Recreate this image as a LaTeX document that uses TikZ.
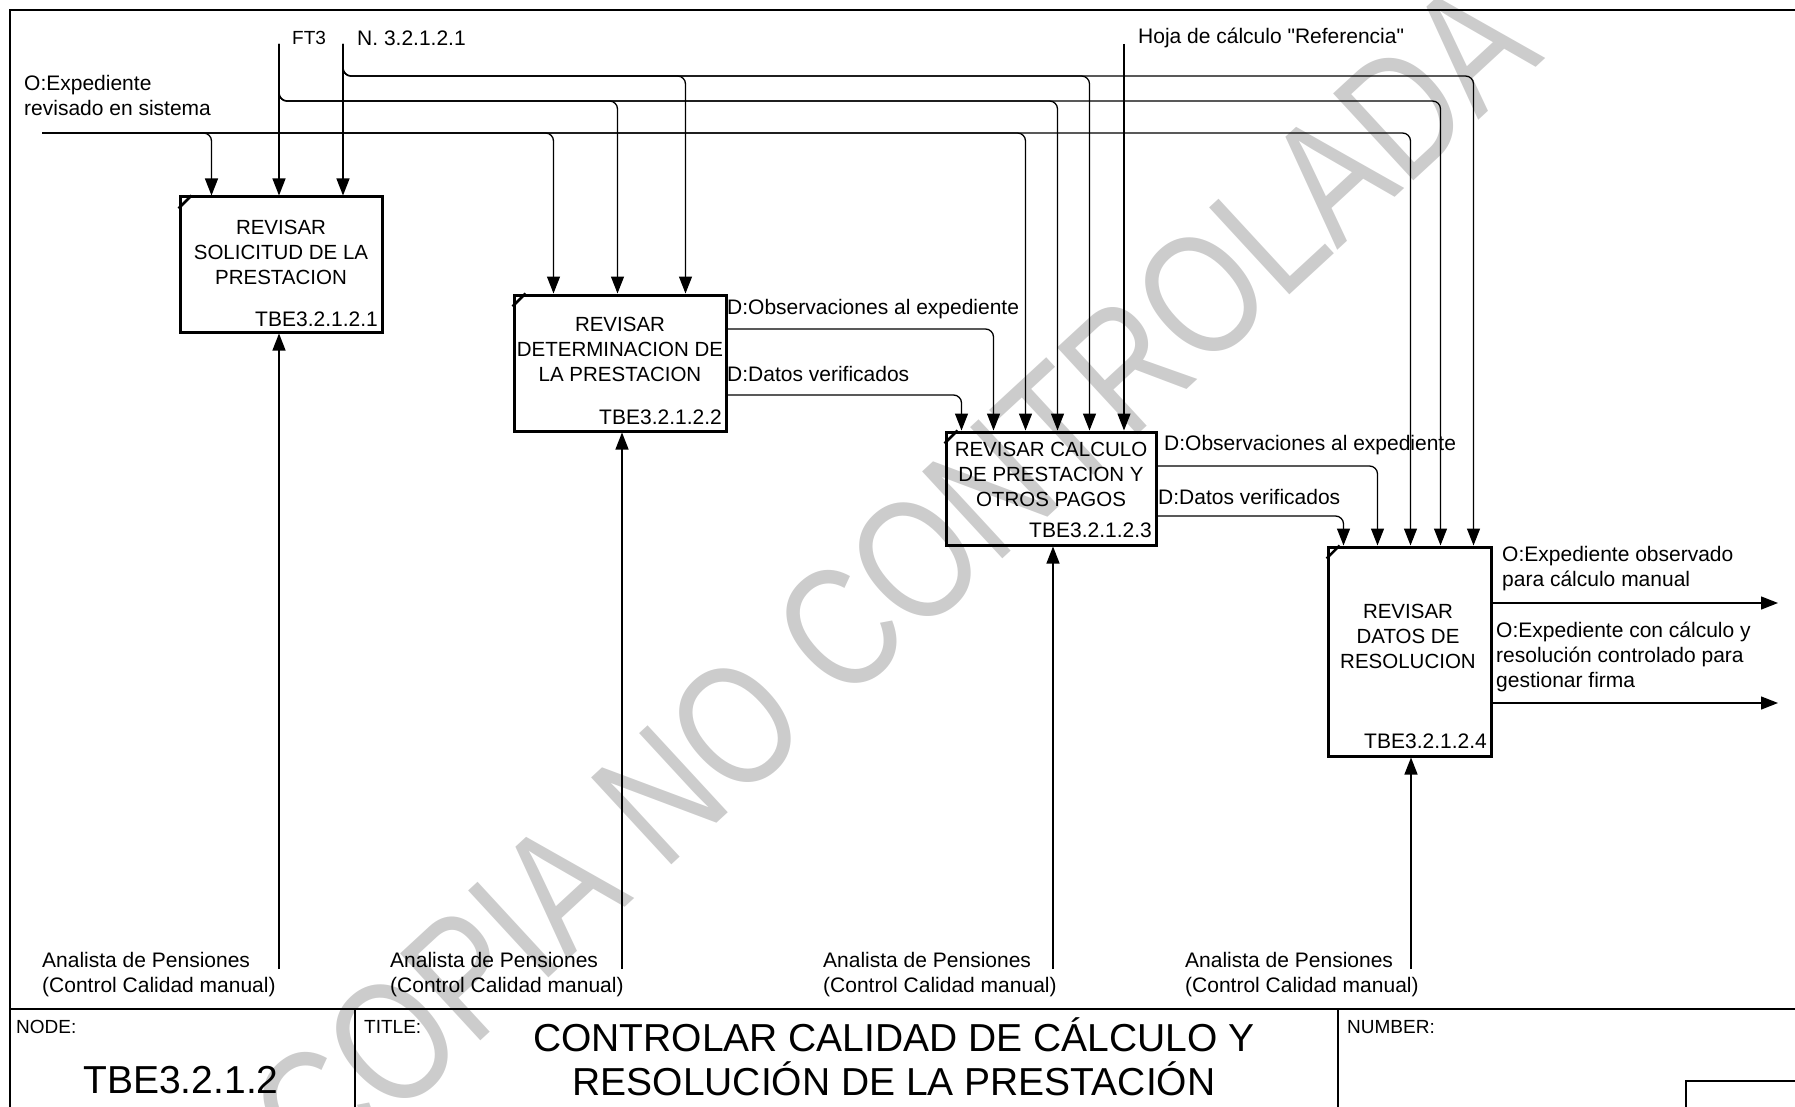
\documentclass[tikz,border=0pt]{standalone}
\usepackage{fontspec}
\setmainfont{Liberation Sans}
\newfontfamily\qfont{Liberation Sans}[Ligatures=TeXOff]
\usetikzlibrary{arrows.meta}
\begin{document}
\begin{tikzpicture}[x=1pt,y=-1pt,
  lab/.style={font=\fontsize{21}{25}\selectfont, inner sep=0pt},
  small/.style={font=\fontsize{19}{22}\selectfont, inner sep=0pt},
  boxt/.style={font=\fontsize{20.5}{25}\selectfont, inner sep=0pt, align=center},
  abox/.style={draw, line width=3pt, inner sep=0pt},
  arr/.style={line width=1.3pt, -{Triangle[length=17pt,width=13pt]}, rounded corners=8pt},
  frame/.style={line width=2pt},
  corner/.style={line width=2.5pt}]
\useasboundingbox (0,0) rectangle (1795,1107);
% watermark
\node[rotate=42.7, xscale=0.8, text=black!20, font=\fontsize{172}{172}\selectfont, inner sep=0pt] (wm) at (893,580) {COPIA NO CONTROLADA};
% frame and title block
\draw[frame] (1795,10) -- (10,10) -- (10,1107);
\draw[frame] (10,1009) -- (1795,1009);
\draw[frame] (355,1009) -- (355,1107);
\draw[frame] (1338,1009) -- (1338,1107);
\draw[line width=1.5pt] (1795,1081) -- (1686,1081) -- (1686,1107);
\node[small, anchor=west] (nodel) at (16,1027) {NODE:};
\node[small, anchor=west] (titlel) at (364,1027) {TITLE:};
\node[small, anchor=west] (numl) at (1347,1027) {NUMBER:};
\node[font=\fontsize{39}{44}\selectfont, inner sep=0pt] (nodeid) at (181,1080) {TBE3.2.1.2};
\node[font=\fontsize{39}{44}\selectfont, inner sep=0pt, align=center] (title) at (894,1057) {CONTROLAR CALIDAD DE CÁLCULO Y\\RESOLUCIÓN DE LA PRESTACIÓN};
% boxes
\node[abox, minimum width=202pt, minimum height=135pt] (b1) at (281,264.5) {};
\node[abox, minimum width=212pt, minimum height=136pt] (b2) at (620,363) {};
\node[abox, minimum width=210pt, minimum height=113pt] (b3) at (1051,488.5) {};
\node[abox, minimum width=163pt, minimum height=209pt] (b4) at (1409.5,651.5) {};
\foreach \b in {b1,b2,b3,b4}{
  \draw[corner] ([yshift=-13pt]\b.north west) -- ([xshift=13pt]\b.north west);
}
\node[boxt] (b1t) at (281,252) {REVISAR\\SOLICITUD DE LA\\PRESTACION};
\node[boxt] (b2t) at (620,349) {REVISAR\\DETERMINACION DE\\LA PRESTACION};
\node[boxt] (b3t) at (1051,474) {REVISAR CALCULO\\DE PRESTACION Y\\OTROS PAGOS};
\node[boxt] (b4t) at (1408,636) {REVISAR\\DATOS DE\\RESOLUCION};
\node[lab, anchor=east] (b1id) at (378,319) {TBE3.2.1.2.1};
\node[lab, anchor=east] (b2id) at (722,417) {TBE3.2.1.2.2};
\node[lab, anchor=east] (b3id) at (1152,530) {TBE3.2.1.2.3};
\node[lab, anchor=east] (b4id) at (1487,741) {TBE3.2.1.2.4};
% top labels and free ends
\node[small, anchor=west] (ft3t) at (292,38) {FT3};
\node[lab, anchor=west] (nnt) at (357,38) {N. 3.2.1.2.1};
\node[lab, anchor=west] (hojat) at (1138,38) {\qfont Hoja de cálculo "Referencia"};
\node[lab, anchor=west, align=left] (oexpt) at (24,95) {O:Expediente\\revisado en sistema};
\coordinate (ft3) at (279,44);
\coordinate (nn) at (343,44);
\coordinate (hoja) at (1124,44);
\coordinate (oexp) at (42,133);
\coordinate (ft3h) at (279,101);
\coordinate (nnh) at (343,76);
% box 1 inputs
\draw[arr] (oexp) -| ([xshift=33pt]b1.north west);
\draw[arr] (ft3) -- (b1.north -| ft3);
\draw[arr] (nn) -- (b1.north -| nn);
% box 2 inputs
\draw[arr] (oexp) -| ([xshift=41pt]b2.north west);
\draw[arr] (ft3) -- (ft3h) -| ([xshift=105pt]b2.north west);
\draw[arr] (nn) -- (nnh) -| ([xshift=173pt]b2.north west);
% box 3 inputs
\draw[arr] (oexp) -| ([xshift=81pt]b3.north west);
\draw[arr] (ft3) -- (ft3h) -| ([xshift=113pt]b3.north west);
\draw[arr] (nn) -- (nnh) -| ([xshift=145pt]b3.north west);
\draw[arr] (hoja) -- (b3.north -| hoja);
% box 4 inputs
\draw[arr] (oexp) -| ([xshift=84pt]b4.north west);
\draw[arr] (ft3) -- (ft3h) -| ([xshift=114pt]b4.north west);
\draw[arr] (nn) -- (nnh) -| ([xshift=147pt]b4.north west);
% box 2 -> box 3
\draw[arr] (b2.east |- 0,329) -| ([xshift=49pt]b3.north west);
\draw[arr] (b2.east |- 0,395) -| ([xshift=17pt]b3.north west);
\node[lab, anchor=west] (l23a) at (727,309) {D:Observaciones al expediente};
\node[lab, anchor=west] (l23b) at (727,374) {D:Datos verificados};
% box 3 -> box 4
\draw[arr] (b3.east |- 0,466) -| ([xshift=51pt]b4.north west);
\draw[arr] (b3.east |- 0,516) -| ([xshift=17pt]b4.north west);
\node[lab, anchor=west] (l34a) at (1164,445) {D:Observaciones al expediente};
\node[lab, anchor=west] (l34b) at (1158,497) {D:Datos verificados};
% outputs
\coordinate (o1) at (1778,603);
\coordinate (o2) at (1778,703);
\draw[arr] (b4.east |- o1) -- (o1);
\draw[arr] (b4.east |- o2) -- (o2);
\node[lab, anchor=west, align=left] (o1t) at (1502,569) {O:Expediente observado\\para cálculo manual};
\node[lab, anchor=west, align=left] (o2t) at (1496,657) {O:Expediente con cálculo y\\resolución controlado para\\gestionar firma};
% mechanisms
\coordinate (m1) at (279,969);
\coordinate (m2) at (622,969);
\coordinate (m3) at (1053,969);
\coordinate (m4) at (1411,969);
\draw[arr] (m1) -- (b1.south -| m1);
\draw[arr] (m2) -- (b2.south -| m2);
\draw[arr] (m3) -- (b3.south -| m3);
\draw[arr] (m4) -- (b4.south -| m4);
\node[lab, anchor=west, align=left] (m1t) at (42,975) {Analista de Pensiones\\(Control Calidad manual)};
\node[lab, anchor=west, align=left] (m2t) at (390,975) {Analista de Pensiones\\(Control Calidad manual)};
\node[lab, anchor=west, align=left] (m3t) at (823,975) {Analista de Pensiones\\(Control Calidad manual)};
\node[lab, anchor=west, align=left] (m4t) at (1185,975) {Analista de Pensiones\\(Control Calidad manual)};
\end{tikzpicture}
\end{document}
